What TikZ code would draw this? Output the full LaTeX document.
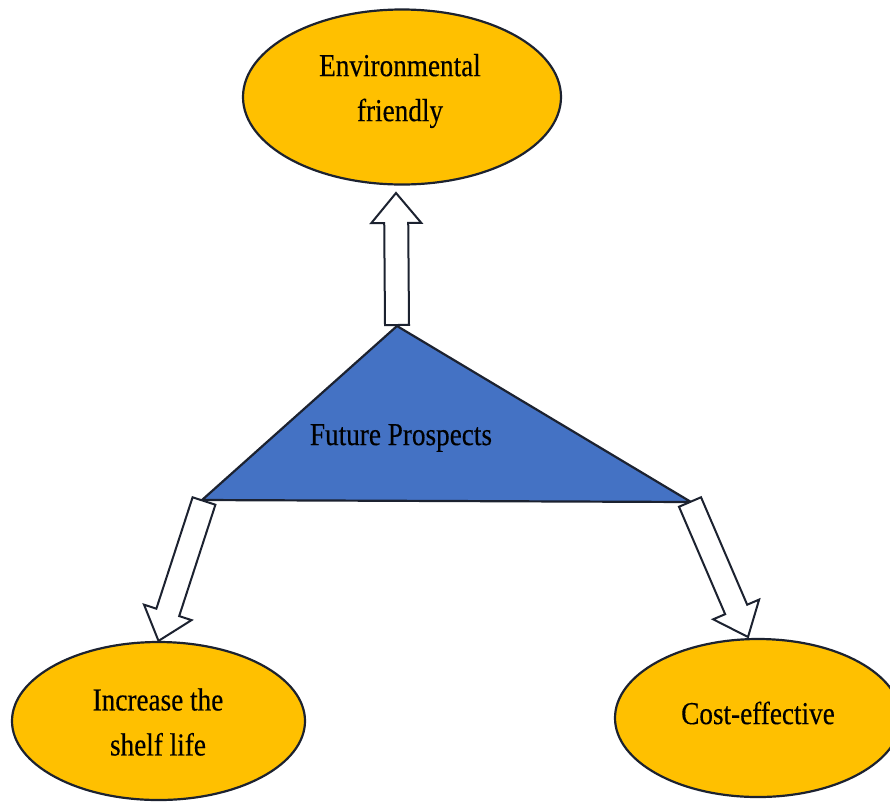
\documentclass[tikz,border=0pt]{standalone}
\usepackage{fontspec}
\setmainfont{Liberation Serif}[FakeStretch=0.85,FakeBold=0.3]
\usetikzlibrary{shapes.geometric,calc}
\definecolor{gold}{HTML}{FFC000}
\definecolor{triblue}{HTML}{4472C4}
\definecolor{edgecol}{HTML}{1C2230}
\newcommand{\blockarr}[2]{%
  \coordinate (#1-b) at ($(#2)!30pt!(#1)$);
  \draw[blockarrow] ($(#1)!12pt!90:(#2)$) -- ($(#1-b)!12pt!90:(#2)$) -- ($(#1-b)!25pt!90:(#2)$)
    -- (#2) -- ($(#1-b)!25pt!-90:(#2)$) -- ($(#1-b)!12pt!-90:(#2)$) -- ($(#1)!12pt!-90:(#2)$) -- cycle;}
\begin{document}
\begin{tikzpicture}[x=1pt,y=-1pt,
  oval/.style={ellipse, draw=edgecol, line width=2.2pt, fill=gold, inner sep=0pt},
  lbl/.style={font=\fontsize{32}{45}\selectfont, align=center, inner sep=0pt, text=black},
  blockarrow/.style={draw=edgecol, fill=white, line width=2pt, line join=miter},
  tri/.style={draw=edgecol, fill=triblue, line width=2.2pt, line join=miter}]
\clip (0,0) rectangle (890,801);
\fill[white] (0,0) rectangle (890,801);
% ellipses
\node[oval, minimum width=318pt, minimum height=175pt] (env) at (402,97) {};
\node[oval, minimum width=293pt, minimum height=158pt] (shelf) at (158.5,721) {};
\node[oval, minimum width=286pt, minimum height=158pt] (cost) at (758,718) {};
% triangle
\coordinate (ta) at (397,326);
\coordinate (tl) at (202,500);
\coordinate (tr) at (691,502);
\draw[tri] (ta) -- (tr) -- (tl) -- cycle;
% labels
\node[lbl] (envt) at (400,91) {Environmental\\friendly};
\node[lbl] (shelft) at (158,722) {Increase the\\shelf life};
\node[lbl] (costt) at (758,713) {Cost-effective};
\node[lbl] (fut) at (401,438) {Future Prospects};
% arrows
\coordinate (upT) at (397,325);
\coordinate (upH) at (396,193);
\coordinate (lfT) at (204,501);
\coordinate (rtT) at (690,502);
\coordinate (rtH) at (748,637);
\blockarr{upT}{upH}
\blockarr{lfT}{shelf.north}
\blockarr{rtT}{rtH}
\end{tikzpicture}
\end{document}
